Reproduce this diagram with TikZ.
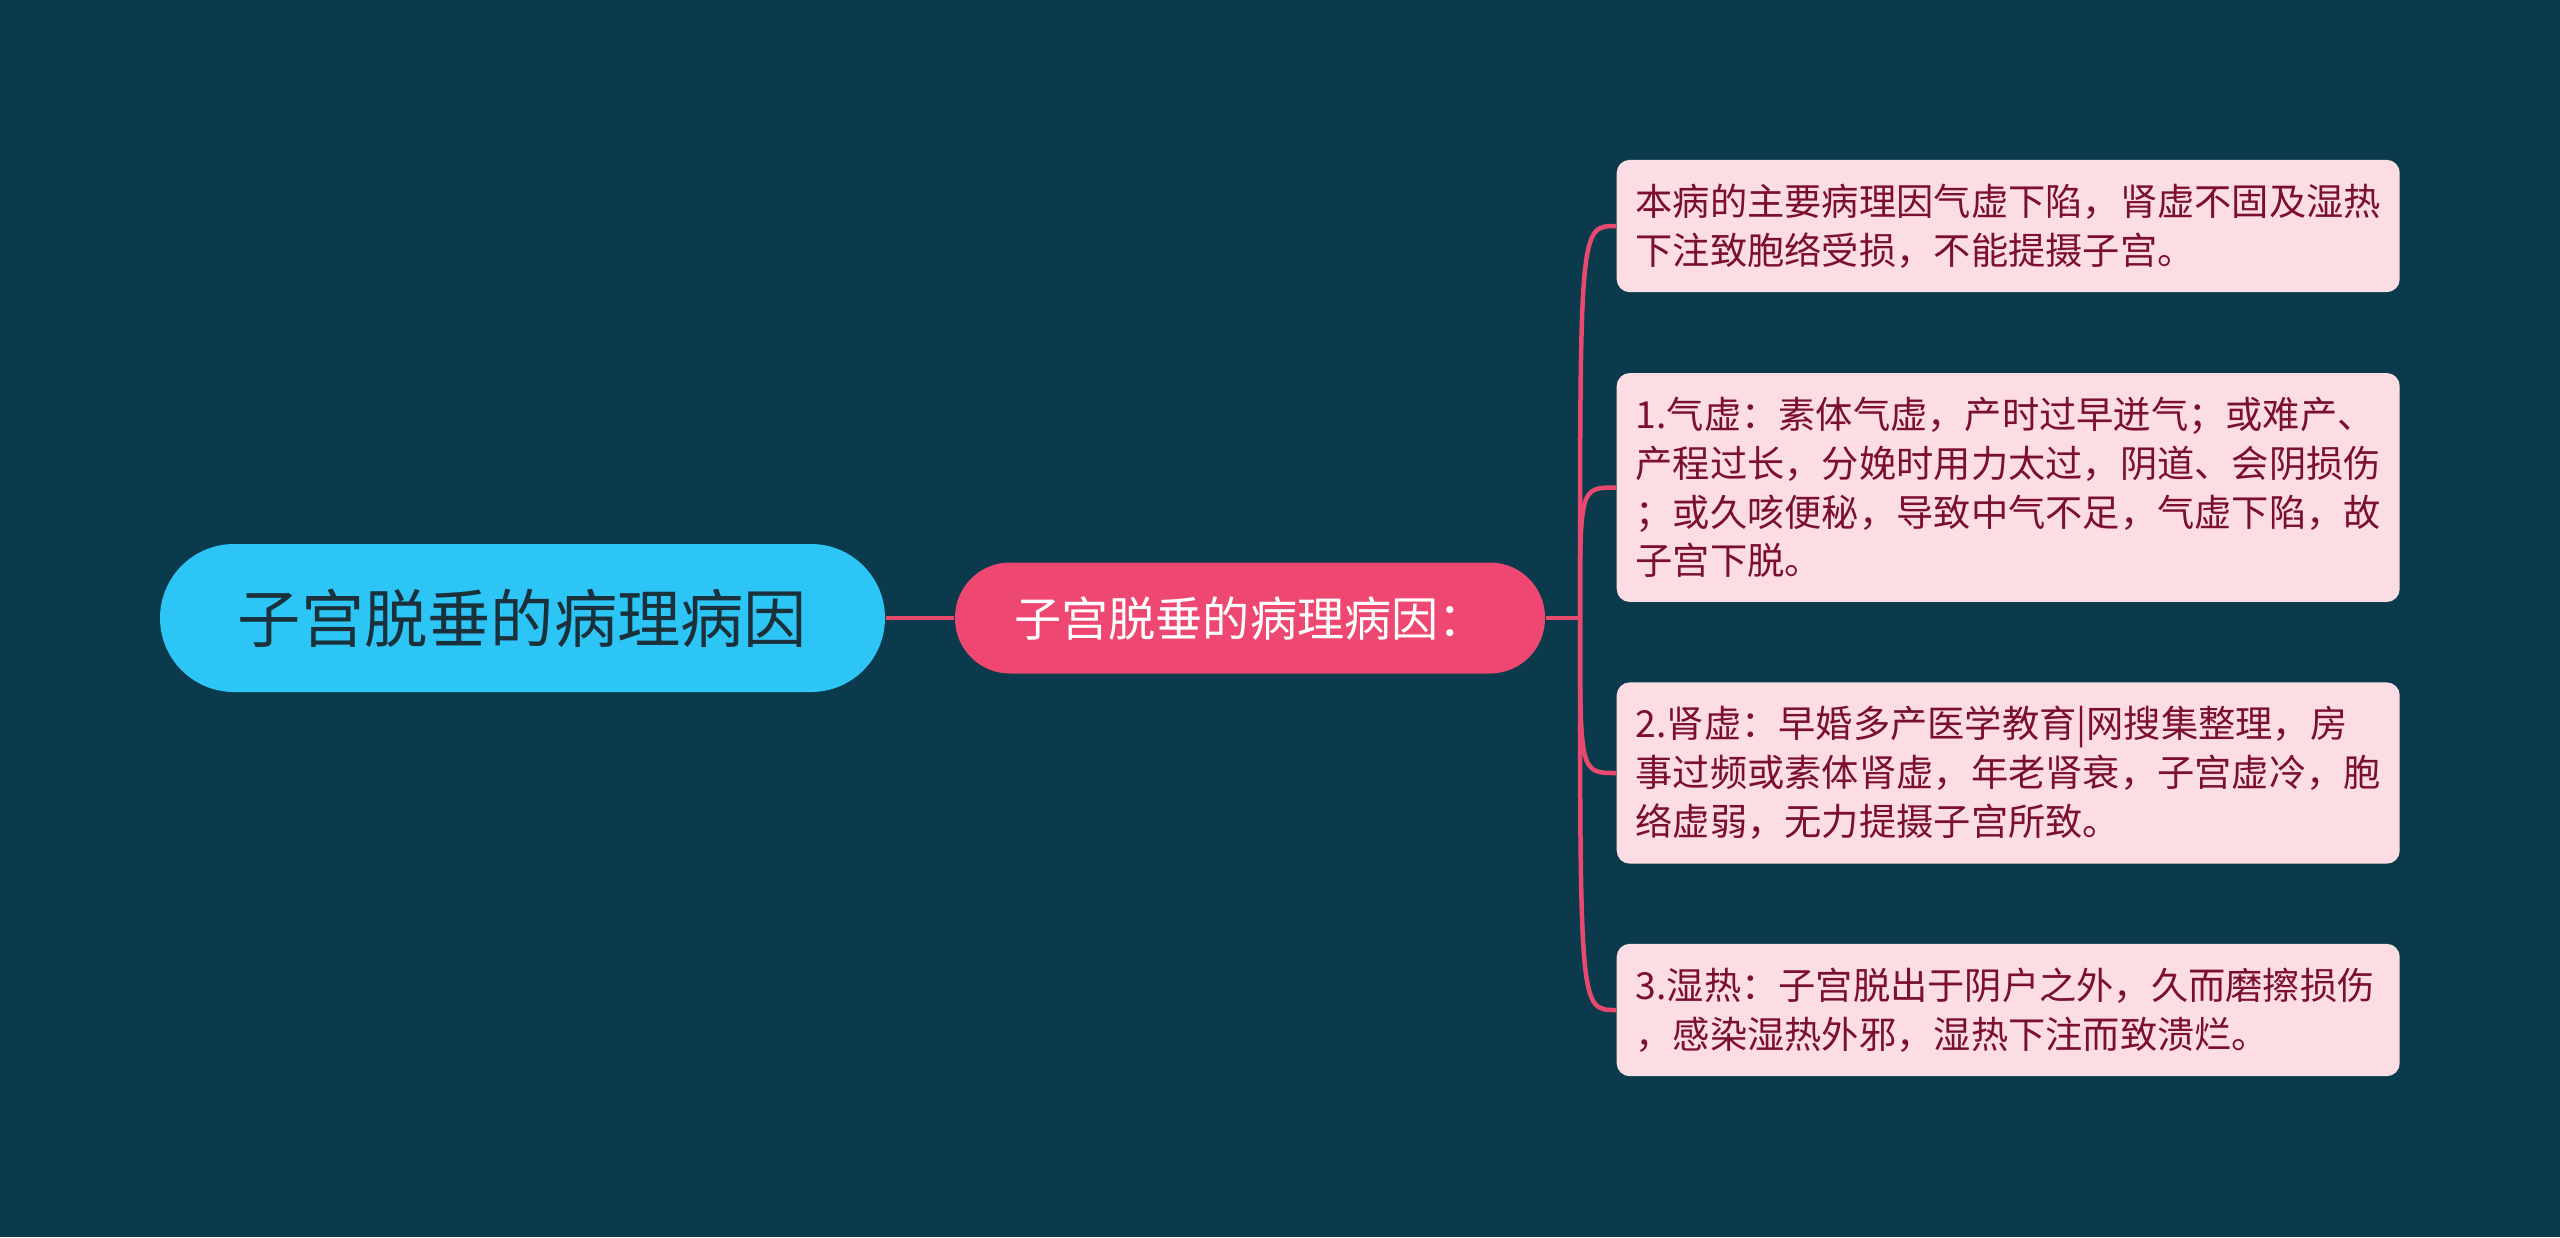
\documentclass[tikz,border=0pt]{standalone}
\usepackage{fontspec}
\setmainfont{Noto Sans CJK SC}
\usepackage{tikz}
\usetikzlibrary{positioning}
\usepackage{xcolor}
\definecolor{background}{HTML}{0A3A4C}
\definecolor{rootfill}{HTML}{2DC5F5}
\definecolor{roottext}{HTML}{1A303A}
\definecolor{subfill}{HTML}{EE4771}
\definecolor{leaffill}{HTML}{FCDDE3}
\definecolor{leaftext}{HTML}{7B0F2E}
\definecolor{linkcolor}{HTML}{E8496F}

\tikzset{
  rootnode/.style={rectangle, fill=rootfill, text=roottext, rounded corners=.74cm,
    minimum width=7.25cm, minimum height=1.48cm, font=\fontsize{18}{22}\selectfont},
  subnode/.style={rectangle, fill=subfill, text=white, rounded corners=.55cm,
    minimum width=5.9cm, minimum height=1.11cm, font=\fontsize{13.4}{16}\selectfont},
  leafnode/.style={rectangle, fill=leaffill, text=leaftext, rounded corners=.13cm,
    anchor=west, align=left, text width=7.45cm, inner xsep=.19cm, inner ysep=.24cm,
    font=\fontsize{10.6}{13.9}\selectfont},
  link/.style={draw=linkcolor, line width=.045cm}
}

\begin{document}
\begin{tikzpicture}
       \fill[background] (0cm, 0cm) rectangle (25.6cm, -12.37cm);

       \node[rootnode] (root) at (5.225cm, -6.18cm) {子宫脱垂的病理病因};
       \node[subnode] (sub) at (12.5cm, -6.18cm) {子宫脱垂的病理病因：};
       \coordinate (fork) at (15.8cm, -6.18cm);

       \node[leafnode] (cause) at (16.16cm, -2.26cm)
         {本病的主要病理因气虚下陷，肾虚不固及湿热\\下注致胞络受损，不能提摄子宫。};
       \node[leafnode] (qixu) at (16.16cm, -4.875cm)
         {1.气虚：素体气虚，产时过早迸气；或难产、\\产程过长，分娩时用力太过，阴道、会阴损伤\\；或久咳便秘，导致中气不足，气虚下陷，故\\子宫下脱。};
       \node[leafnode] (shenxu) at (16.16cm, -7.73cm)
         {2.肾虚：早婚多产医学教育|网搜集整理，房\\事过频或素体肾虚，年老肾衰，子宫虚冷，胞\\络虚弱，无力提摄子宫所致。};
       \node[leafnode] (shire) at (16.16cm, -10.1cm)
         {3.湿热：子宫脱出于阴户之外，久而磨擦损伤\\，感染湿热外邪，湿热下注而致溃烂。};

       \draw[link] (root) -- (sub);
       \draw[link] (sub) -- (fork);
       \foreach \leaf in {cause, qixu, shenxu, shire}
         \draw[link] (fork) .. controls (fork |- \leaf.west) .. (\leaf.west);
\end{tikzpicture}
\end{document}
